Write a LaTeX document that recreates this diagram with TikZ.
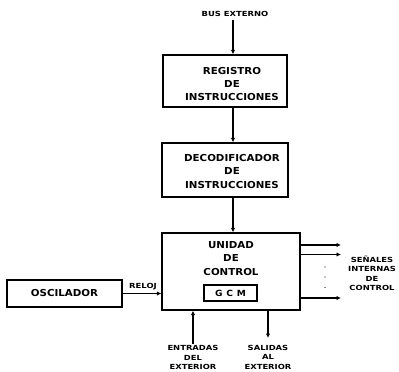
\documentclass[tikz,border=0pt]{standalone}
\usepackage{fontspec}
\usetikzlibrary{arrows.meta}
\newfontfamily\bigf{DejaVu Sans}[FakeStretch=1.07]
\newfontfamily\smallf{DejaVu Sans}[FakeStretch=1.2]
\begin{document}
\begin{tikzpicture}[x=1pt,y=-1pt,
  blk/.style={draw,line width=1.3pt,inner sep=0pt,align=center,
    font=\bigf\bfseries\fontsize{9.6}{13.2}\selectfont},
  lbl/.style={inner sep=0pt,align=center,font=\smallf\bfseries\fontsize{7}{9.5}\selectfont},
  conn/.style={line width=1.2pt,-{Latex[length=4.5pt,width=4.5pt]}},
  plain/.style={line width=1.2pt}]
\useasboundingbox (0,0) rectangle (399,372);
% top label
\node[lbl] (bus) at (235,14) {BUS EXTERNO};
% register
\node[blk,minimum width=124pt,minimum height=52pt] (reg) at (225,81) {};
\node[blk,draw=none] (regt) at (232,84) {REGISTRO\\DE\\INSTRUCCIONES};
% decoder
\node[blk,minimum width=126pt,minimum height=54pt] (dec) at (225,170) {};
\node[blk,draw=none] (dect) at (232,171.5) {DECODIFICADOR\\DE\\INSTRUCCIONES};
% control unit
\node[blk,minimum width=138pt,minimum height=77pt] (cu) at (231,271.5) {};
\node[blk,draw=none] (cut) at (231,258.5) {UNIDAD\\DE\\CONTROL};
\node[draw,line width=1.3pt,minimum width=53pt,minimum height=16pt,inner sep=0pt,
  font=\bigf\bfseries\fontsize{8.5}{10}\selectfont] (gcm) at (230.5,293) {G\hspace{0.45em}C\hspace{0.45em}M};
% oscillator
\node[blk,minimum width=115pt,minimum height=27pt] (osc) at (64.5,293.5) {OSCILADOR};
\node[lbl,anchor=south] (reloj) at (143,290) {RELOJ};
% vertical flow
\draw[conn] (bus.south -| 233,0) ++(0,3) -- (233,0 |- reg.north);
\draw[conn] (233,0 |- reg.south) -- (233,0 |- dec.north);
\draw[conn] (233,0 |- dec.south) -- (233,0 |- cu.north);
% clock
\draw[conn] (osc.east |- 0,293.5) -- (cu.west |- 0,293.5);
% right outputs
\coordinate (s1) at (341,245);
\coordinate (s2) at (341,254.5);
\coordinate (s3) at (341,298);
\draw[conn] (cu.east |- s1) -- (s1);
\draw[conn] (cu.east |- s2) -- (s2);
\draw[conn] (cu.east |- s3) -- (s3);
\fill (325,267) circle (0.7pt) (325,277) circle (0.7pt) (325,287.5) circle (0.7pt);
\node[lbl] (sen) at (372,273.5) {SEÑALES\\INTERNAS\\DE\\CONTROL};
% bottom
\node[lbl] (ent) at (193,357.5) {ENTRADAS\\DEL\\EXTERIOR};
\node[lbl] (sal) at (268,357) {SALIDAS\\AL\\EXTERIOR};
\coordinate (e0) at (193,344);
\coordinate (s0) at (268,338);
\draw[conn] (e0) -- (cu.south -| e0);
\draw[conn] (cu.south -| s0) -- (s0);
\end{tikzpicture}
\end{document}
